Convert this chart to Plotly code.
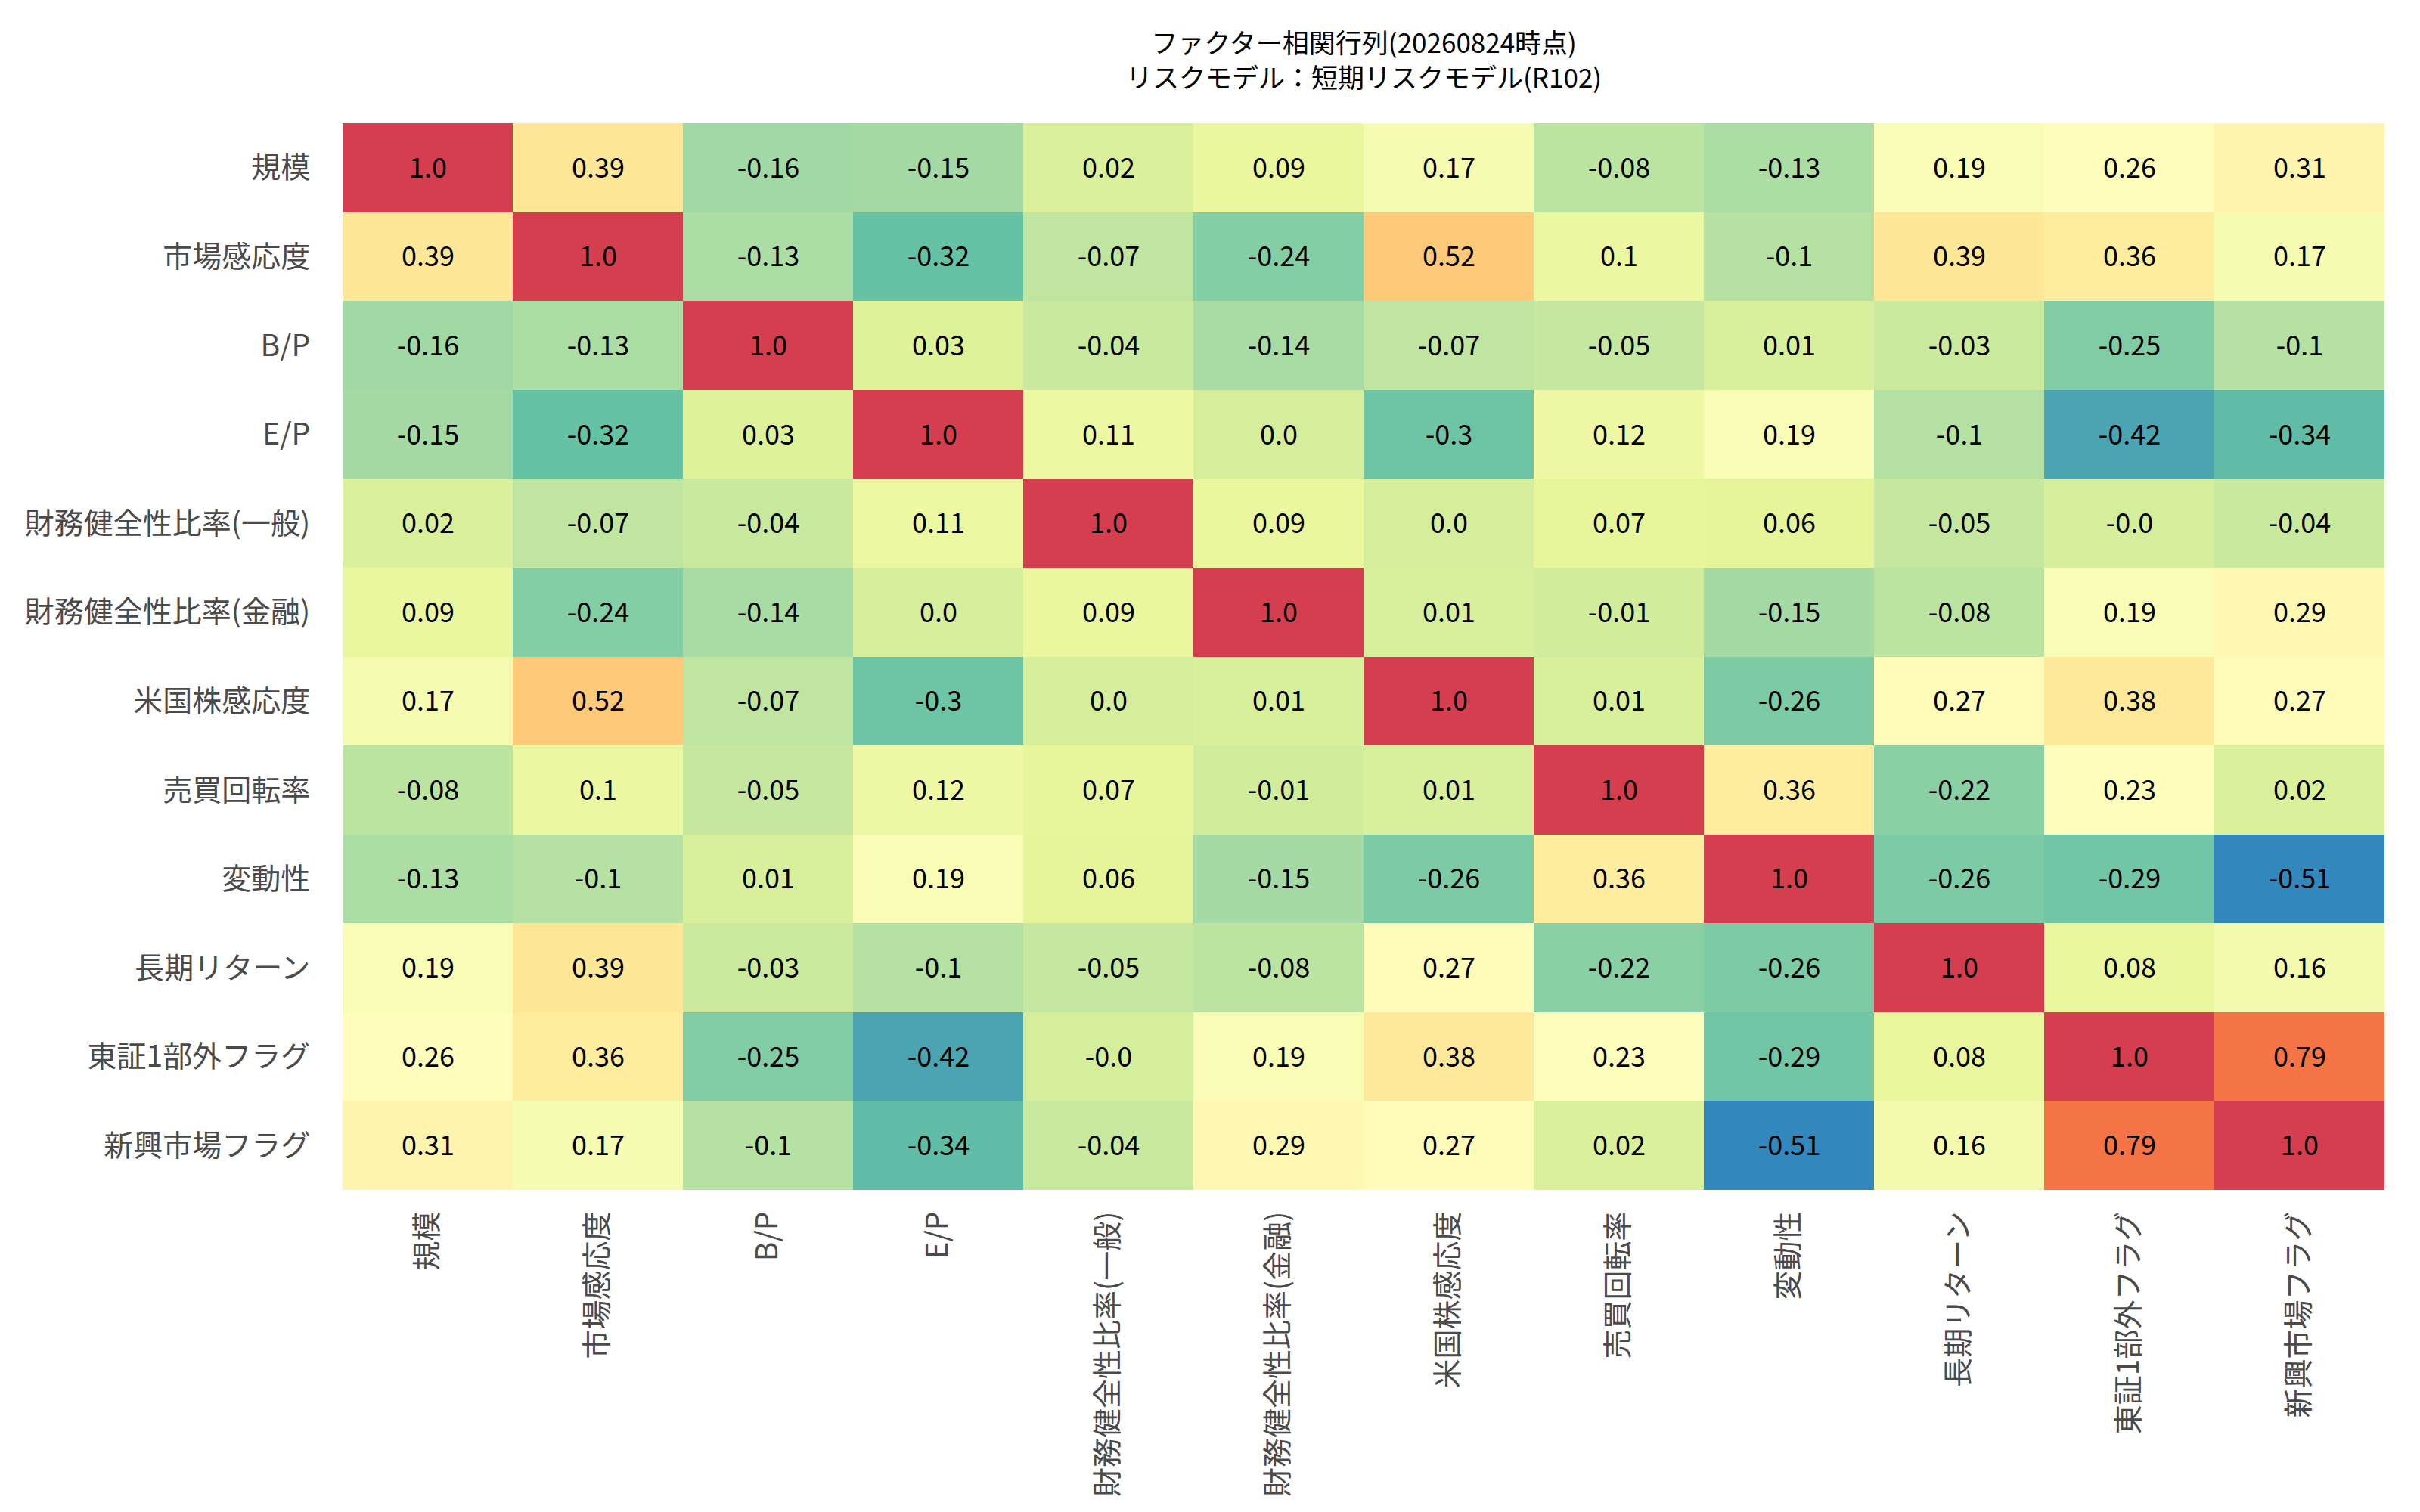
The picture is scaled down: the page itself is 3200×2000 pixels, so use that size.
import plotly.graph_objects as go

factors = ["規模", "市場感応度", "B/P", "E/P", "財務健全性比率(一般)", "財務健全性比率(金融)",
           "米国株感応度", "売買回転率", "変動性", "長期リターン", "東証1部外フラグ", "新興市場フラグ"]

row_size = [1.0, 0.39, -0.16, -0.15, 0.02, 0.09, 0.17, -0.08, -0.13, 0.19, 0.26, 0.31]
row_market = [0.39, 1.0, -0.13, -0.32, -0.07, -0.24, 0.52, 0.1, -0.1, 0.39, 0.36, 0.17]
row_bp = [-0.16, -0.13, 1.0, 0.03, -0.04, -0.14, -0.07, -0.05, 0.01, -0.03, -0.25, -0.1]
row_ep = [-0.15, -0.32, 0.03, 1.0, 0.11, 0.0, -0.3, 0.12, 0.19, -0.1, -0.42, -0.34]
row_fin_general = [0.02, -0.07, -0.04, 0.11, 1.0, 0.09, 0.0, 0.07, 0.06, -0.05, -0.0, -0.04]
row_fin_finance = [0.09, -0.24, -0.14, 0.0, 0.09, 1.0, 0.01, -0.01, -0.15, -0.08, 0.19, 0.29]
row_us = [0.17, 0.52, -0.07, -0.3, 0.0, 0.01, 1.0, 0.01, -0.26, 0.27, 0.38, 0.27]
row_turnover = [-0.08, 0.1, -0.05, 0.12, 0.07, -0.01, 0.01, 1.0, 0.36, -0.22, 0.23, 0.02]
row_volatility = [-0.13, -0.1, 0.01, 0.19, 0.06, -0.15, -0.26, 0.36, 1.0, -0.26, -0.29, -0.51]
row_longterm = [0.19, 0.39, -0.03, -0.1, -0.05, -0.08, 0.27, -0.22, -0.26, 1.0, 0.08, 0.16]
row_non_first = [0.26, 0.36, -0.25, -0.42, -0.0, 0.19, 0.38, 0.23, -0.29, 0.08, 1.0, 0.79]
row_emerging = [0.31, 0.17, -0.1, -0.34, -0.04, 0.29, 0.27, 0.02, -0.51, 0.16, 0.79, 1.0]

z = [row_size, row_market, row_bp, row_ep, row_fin_general, row_fin_finance,
     row_us, row_turnover, row_volatility, row_longterm, row_non_first, row_emerging]
text = [[str(v) for v in row] for row in z]

title_line1 = "ファクター相関行列(20260824時点)"
title_line2 = "リスクモデル：短期リスクモデル(R102)"

colors = ["#3288bd", "#66c2a5", "#abdda4", "#e6f598", "#ffffbf",
          "#fee08b", "#fdae61", "#f46d43", "#d53e4f"]
colorscale = [[i / (len(colors) - 1), c] for i, c in enumerate(colors)]

zmin = min(min(r) for r in z)
zmax = max(max(r) for r in z)

FONT = "Noto Sans CJK JP"
W, H = 3200, 2000
ML, MR, MT, MB = 445, 55, 155, 434
PH = H - MT - MB

fig = go.Figure(go.Heatmap(
    z=z, x=factors, y=factors,
    text=text, texttemplate="%{text}",
    textfont=dict(family=FONT, size=36, color="black"),
    colorscale=colorscale, zmin=zmin, zmax=zmax,
    showscale=False, hoverinfo="skip",
))

fig.update_layout(
    width=W, height=H,
    paper_bgcolor="white", plot_bgcolor="white",
    margin=dict(l=ML, r=MR, t=MT, b=MB, autoexpand=False),
    font=dict(family=FONT, size=39, color="#4a4a4a"),
    annotations=[
        dict(text=title_line1 + "<br>" + title_line2,
             x=0.5, xref="paper", xanchor="center",
             y=1 + (MT - 69) / PH, yref="paper", yanchor="middle", showarrow=False,
             font=dict(family=FONT, size=35, color="black")),
    ],
)
fig.update_xaxes(tickangle=-90, ticks="outside", ticklen=12, tickcolor="rgba(0,0,0,0)",
                 showgrid=False, zeroline=False, automargin=False,
                 tickfont=dict(family=FONT, size=39, color="#4a4a4a"))
fig.update_yaxes(autorange="reversed", ticks="outside", ticklen=34, tickcolor="rgba(0,0,0,0)",
                 showgrid=False, zeroline=False, automargin=False,
                 tickfont=dict(family=FONT, size=39, color="#4a4a4a"))

fig.write_html("out.html")
